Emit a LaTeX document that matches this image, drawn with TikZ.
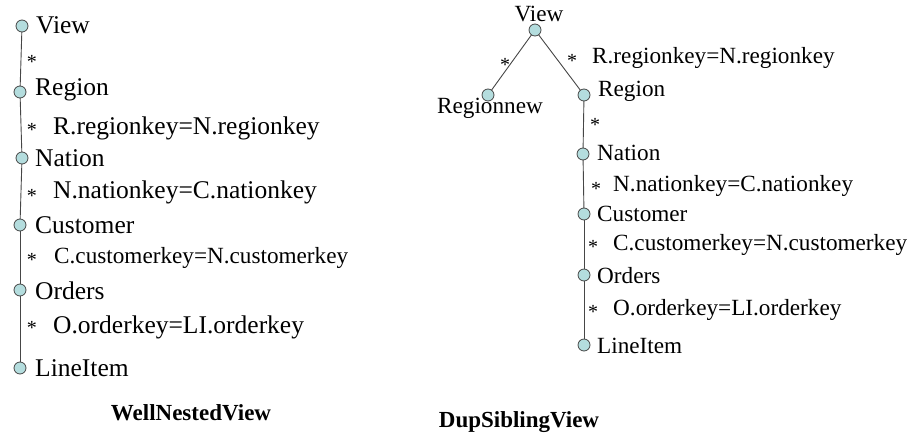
\documentclass[tikz,border=0pt]{standalone}
\usepackage{fontspec}
\setmainfont{Liberation Serif}
\usepackage{tikz}

\definecolor{nodefill}{RGB}{180,221,222}
\definecolor{edgegray}{RGB}{70,70,70}

\tikzset{
  tnode/.style={circle, draw=edgegray, fill=nodefill, line width=0.8pt, inner sep=0pt, minimum size=12pt},
  edge/.style={draw=edgegray, line width=0.9pt},
  biglbl/.style={anchor=west, inner sep=0pt, font=\fontsize{25.5}{30}\selectfont},
  smalllbl/.style={anchor=west, inner sep=0pt, font=\fontsize{23.2}{28}\selectfont},
  starlbl/.style={inner sep=0pt, font=\fontsize{20}{24}\selectfont},
  caption/.style={inner sep=0pt, font=\fontsize{23}{26}\selectfont\bfseries}
}

\begin{document}
\begin{tikzpicture}[x=1pt,y=-1pt]
            \useasboundingbox (0,0) rectangle (917,439);

            % WellNestedView
            \coordinate (v) at (22,26);
            \coordinate (r) at (20,92);
            \coordinate (n) at (22,158);
            \coordinate (c) at (20,225);
            \coordinate (o) at (20,290);
            \coordinate (li) at (20,368);

            \draw[edge] (v)--(r);
            \draw[edge] (r)--(n);
            \draw[edge] (n)--(c);
            \draw[edge] (c)--(o);
            \draw[edge] (o)--(li);

            \node[tnode] (vc) at (v) {};
            \node[tnode] (rc) at (r) {};
            \node[tnode] (nc) at (n) {};
            \node[tnode] (cc) at (c) {};
            \node[tnode] (oc) at (o) {};
            \node[tnode] (lic) at (li) {};

            \node[biglbl] (vl) at (36,25) {View};
            \node[biglbl] (rl) at (35,90) {Region};
            \node[biglbl] (nl) at (35,158) {Nation};
            \node[biglbl] (cl) at (35,225) {Customer};
            \node[biglbl] (ol) at (35,291) {Orders};
            \node[biglbl] (lil) at (35,368) {LineItem};

            \node[starlbl] (s1) at (32,62) {*};
            \node[starlbl] (s2) at (32,130) {*};
            \node[starlbl] (s3) at (32,196) {*};
            \node[starlbl] (s4) at (32,260) {*};
            \node[starlbl] (s5) at (32,328) {*};

            \node[biglbl] (k2) at (53,128) {R.regionkey=N.regionkey};
            \node[biglbl] (k3) at (53,192) {N.nationkey=C.nationkey};
            \node[smalllbl] (k4) at (54,258) {C.customerkey=N.customerkey};
            \node[biglbl] (k5) at (53,327) {O.orderkey=LI.orderkey};

            \node[caption] (t1) at (191,413) {WellNestedView};

            % DupSiblingView
            \coordinate (dv) at (535,30);
            \coordinate (drn) at (488,95);
            \coordinate (dr) at (584,95);
            \coordinate (dn) at (583,154);
            \coordinate (dc) at (584,214);
            \coordinate (do) at (584,275);
            \coordinate (dli) at (584,345);

            \draw[edge] (dv)--(drn);
            \draw[edge] (dv)--(dr);
            \draw[edge] (dr)--(dn);
            \draw[edge] (dn)--(dc);
            \draw[edge] (dc)--(do);
            \draw[edge] (do)--(dli);

            \node[tnode] (dvc) at (dv) {};
            \node[tnode] (drnc) at (drn) {};
            \node[tnode] (drc) at (dr) {};
            \node[tnode] (dnc) at (dn) {};
            \node[tnode] (dcc) at (dc) {};
            \node[tnode] (doc) at (do) {};
            \node[tnode] (dlic) at (dli) {};

            \node[smalllbl, anchor=center] (dvl) at (539,14) {View};
            \node[smalllbl, anchor=center] (drnl) at (490,108) {Regionnew};
            \node[smalllbl] (drl) at (598,91) {Region};
            \node[smalllbl] (dnl) at (597,153) {Nation};
            \node[smalllbl] (dcl) at (597,214) {Customer};
            \node[smalllbl] (dol) at (597,276) {Orders};
            \node[smalllbl] (dlil) at (597,346) {LineItem};

            \node[starlbl] (ds0) at (505,65) {*};
            \node[starlbl] (ds1) at (572,61) {*};
            \node[starlbl] (ds2) at (595,125) {*};
            \node[starlbl] (ds3) at (596,189) {*};
            \node[starlbl] (ds4) at (593,247) {*};
            \node[starlbl] (ds5) at (593,312) {*};

            \node[smalllbl] (dk1) at (592,58) {R.regionkey=N.regionkey};
            \node[smalllbl] (dk3) at (613,186) {N.nationkey=C.nationkey};
            \node[smalllbl] (dk4) at (613,245) {C.customerkey=N.customerkey};
            \node[smalllbl] (dk5) at (613,310) {O.orderkey=LI.orderkey};

            \node[caption] (t2) at (519,422) {DupSiblingView};
        \end{tikzpicture}
\end{document}
